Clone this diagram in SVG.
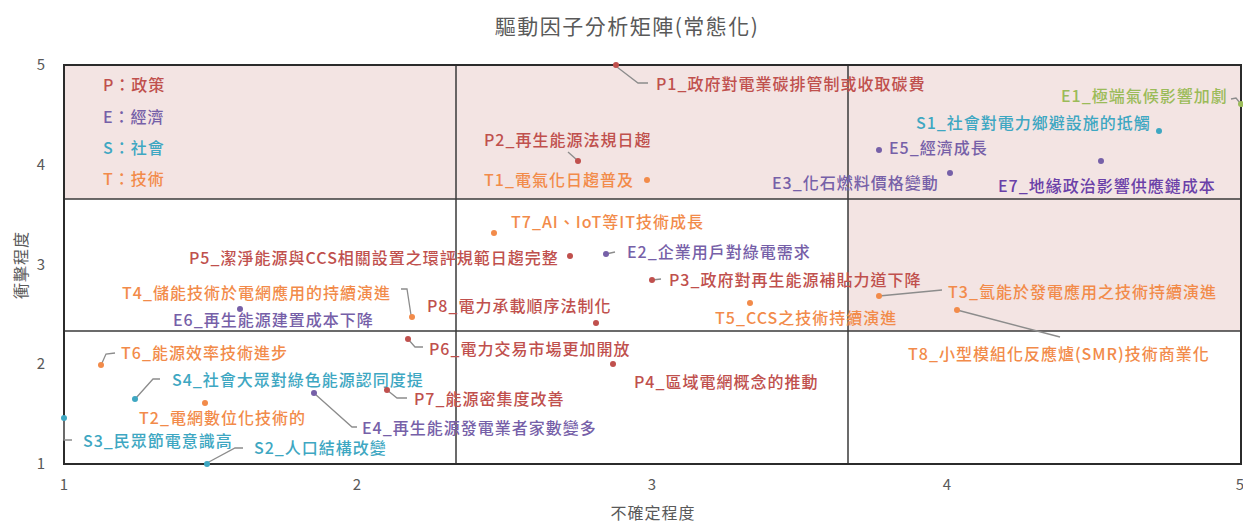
<svg xmlns="http://www.w3.org/2000/svg" width="1243" height="523" viewBox="0 0 1243 523">
<style>
text{font-family:"Noto Sans CJK TC","Noto Sans",sans-serif;}
.lbl{font-size:16px;letter-spacing:1px;font-weight:500;}
.tick{font-size:15px;fill:#595959;text-anchor:middle;}
.P{fill:#c0504d;} .E{fill:#7660a8;} .E7{fill:#6a40a8;} .S{fill:#3ea7c2;} .T{fill:#f28b4a;} .G{fill:#9bbb59;}
.ld{fill:none;stroke:#8c8c8c;stroke-width:1.3;}
.grid{stroke:#3a3a3a;stroke-width:1.5;}
circle{r:3;}
</style>
<rect x="0" y="0" width="1243" height="523" fill="#ffffff"/>
<text x="627" y="34" style="font-size:21px;letter-spacing:1.5px;fill:#595959;text-anchor:middle">驅動因子分析矩陣(常態化)</text>
<g id="plot">
<rect x="64" y="65" width="1177" height="134" fill="#f3e4e3"/>
<rect x="848" y="199" width="393" height="132" fill="#f3e4e3"/>
<line class="grid" x1="456" y1="65" x2="456" y2="464"/>
<line class="grid" x1="848" y1="65" x2="848" y2="464"/>
<line class="grid" x1="64" y1="199" x2="1241" y2="199"/>
<line class="grid" x1="64" y1="331" x2="1241" y2="331"/>
<rect x="64" y="65" width="1177" height="399" fill="none" stroke="#2b2b2b" stroke-width="2"/>
</g>
<g id="axes">
<text class="tick" x="41" y="70">5</text>
<text class="tick" x="41" y="170">4</text>
<text class="tick" x="41" y="270">3</text>
<text class="tick" x="41" y="369">2</text>
<text class="tick" x="41" y="469">1</text>
<text class="tick" x="64" y="490">1</text>
<text class="tick" x="357" y="490">2</text>
<text class="tick" x="652" y="490">3</text>
<text class="tick" x="947" y="490">4</text>
<text class="tick" x="1240" y="490">5</text>
<text x="653" y="519" style="font-size:16px;letter-spacing:1px;fill:#595959;text-anchor:middle">不確定程度</text>
<text x="0" y="0" transform="translate(27,265) rotate(-90)" style="font-size:16px;letter-spacing:1px;fill:#595959;text-anchor:middle">衝擊程度</text>
</g>
<g id="legend">
<text class="lbl P" x="103" y="91">P：政策</text>
<text class="lbl E" x="103" y="123">E：經濟</text>
<text class="lbl S" x="103" y="154">S：社會</text>
<text class="lbl T" x="103" y="185">T：技術</text>
</g>
<g id="connectors">
<polyline class="ld" points="617,67 638,83 648,83"/>
<polyline class="ld" points="568,152 577,160"/>
<polyline class="ld" points="606,254 615,252"/>
<polyline class="ld" points="652,280 661,279"/>
<polyline class="ld" points="879,296 942,290"/>
<polyline class="ld" points="957,310 1060,337"/>
<polyline class="ld" points="401,289 407,289 411,315"/>
<polyline class="ld" points="408,339 415,347 423,347"/>
<polyline class="ld" points="102,363 106,354 115,353"/>
<polyline class="ld" points="136,398 153,379 160,379"/>
<polyline class="ld" points="315,394 352,427 357,427"/>
<polyline class="ld" points="387,390 397,398 407,398"/>
<polyline class="ld" points="64,418 64,440 72,440"/>
<polyline class="ld" points="207,463 235,448 243,448"/>
<polyline class="ld" points="1231,99 1236,98 1240,103"/>
</g>
<g id="P1"><circle class="P" cx="616" cy="65"/><text class="lbl P" x="656" y="90">P1_政府對電業碳排管制或收取碳費</text></g>
<g id="P2"><circle class="P" cx="578" cy="161"/><text class="lbl P" x="484" y="146">P2_再生能源法規日趨</text></g>
<g id="T1"><circle class="T" cx="647" cy="180"/><text class="lbl T" x="484" y="186">T1_電氣化日趨普及</text></g>
<g id="E3"><circle class="E" cx="950" cy="173"/><text class="lbl E" x="772" y="189">E3_化石燃料價格變動</text></g>
<g id="E1"><circle class="G" cx="1241" cy="104"/><text class="lbl G" x="1061" y="102">E1_極端氣候影響加劇</text></g>
<g id="S1"><circle class="S" cx="1159" cy="131"/><text class="lbl S" x="916" y="129">S1_社會對電力鄉避設施的抵觸</text></g>
<g id="E5"><circle class="E" cx="879" cy="150"/><text class="lbl E" x="889" y="154">E5_經濟成長</text></g>
<g id="E7"><circle class="E" cx="1101" cy="161"/><text class="lbl E7" x="998" y="192">E7_地緣政治影響供應鏈成本</text></g>
<g id="T7"><circle class="T" cx="494" cy="233"/><text class="lbl T" x="511" y="228">T7_AI、IoT等IT技術成長</text></g>
<g id="P5"><circle class="P" cx="570" cy="256"/><text class="lbl P" x="189" y="264">P5_潔淨能源與CCS相關設置之環評規範日趨完整</text></g>
<g id="E2"><circle class="E" cx="606" cy="254"/><text class="lbl E" x="627" y="258">E2_企業用戶對綠電需求</text></g>
<g id="P3"><circle class="P" cx="652" cy="280"/><text class="lbl P" x="669" y="286">P3_政府對再生能源補貼力道下降</text></g>
<g id="T3"><circle class="T" cx="879" cy="296"/><text class="lbl T" x="948" y="298">T3_氫能於發電應用之技術持續演進</text></g>
<g id="T5"><circle class="T" cx="750" cy="303"/><text class="lbl T" x="715" y="324">T5_CCS之技術持續演進</text></g>
<g id="T8"><circle class="T" cx="957" cy="310"/><text class="lbl T" x="908" y="360">T8_小型模組化反應爐(SMR)技術商業化</text></g>
<g id="P8"><circle class="P" cx="596" cy="323"/><text class="lbl P" x="427" y="312">P8_電力承載順序法制化</text></g>
<g id="T4"><circle class="T" cx="412" cy="317"/><text class="lbl T" x="122" y="299">T4_儲能技術於電網應用的持續演進</text></g>
<g id="E6"><circle class="E" cx="240" cy="309"/><text class="lbl E" x="173" y="326">E6_再生能源建置成本下降</text></g>
<g id="P6"><circle class="P" cx="408" cy="339"/><text class="lbl P" x="429" y="355">P6_電力交易市場更加開放</text></g>
<g id="P4"><circle class="P" cx="613" cy="364"/><text class="lbl P" x="634" y="388">P4_區域電網概念的推動</text></g>
<g id="T6"><circle class="T" cx="101" cy="365"/><text class="lbl T" x="121" y="359">T6_能源效率技術進步</text></g>
<g id="S4"><circle class="S" cx="135" cy="399"/><text class="lbl S" x="172" y="386">S4_社會大眾對綠色能源認同度提</text></g>
<g id="T2"><circle class="T" cx="205" cy="403"/><text class="lbl T" x="139" y="424">T2_電網數位化技術的</text></g>
<g id="E4"><circle class="E" cx="314" cy="393"/><text class="lbl E" x="362" y="434">E4_再生能源發電業者家數變多</text></g>
<g id="P7"><circle class="P" cx="387" cy="390"/><text class="lbl P" x="414" y="405">P7_能源密集度改善</text></g>
<g id="S3"><circle class="S" cx="64" cy="418"/><text class="lbl S" x="83" y="447">S3_民眾節電意識高</text></g>
<g id="S2"><circle class="S" cx="207" cy="464"/><text class="lbl S" x="254" y="454">S2_人口結構改變</text></g>
</svg>
